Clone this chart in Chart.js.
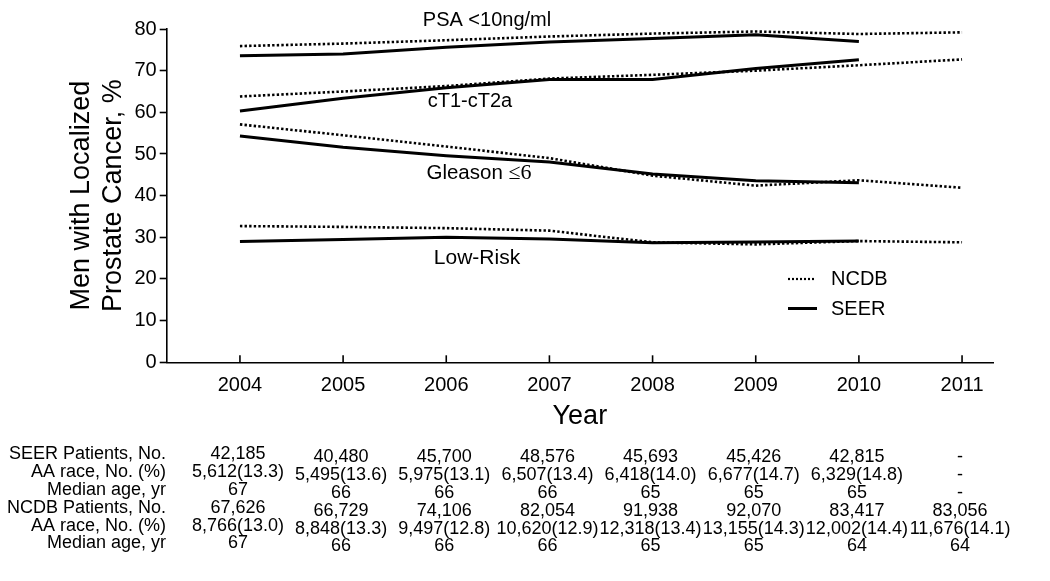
<!DOCTYPE html>
<html>
<head>
<meta charset="utf-8">
<script src="https://cdn.jsdelivr.net/npm/chart.js@4.4.1/dist/chart.umd.min.js"></script>
<style>
html,body{margin:0;padding:0;background:#fff;}
#wrap{width:1050px;height:581px;position:relative;}
</style>
</head>
<body>
<div id="wrap"><canvas id="c" width="1050" height="581"></canvas></div>
<script>
// ---- data ----
const years = [2004, 2005, 2006, 2007, 2008, 2009, 2010, 2011];
const seerYears = [2004, 2005, 2006, 2007, 2008, 2009, 2010];

const psaNCDB = [75.9, 76.5, 77.3, 78.2, 78.9, 79.4, 78.8, 79.2];
const psaSEER = [73.6, 74.0, 75.6, 76.9, 77.7, 78.6, 77.0];
const ct1NCDB = [63.8, 65.0, 66.3, 68.1, 69.0, 70.0, 71.3, 72.7];
const ct1SEER = [60.3, 63.4, 65.9, 67.9, 67.9, 70.5, 72.6];
const gleasonNCDB = [57.1, 54.5, 51.8, 49.0, 44.8, 42.4, 43.7, 41.9];
const gleasonSEER = [54.3, 51.6, 49.6, 48.1, 45.2, 43.6, 43.1];
const lowNCDB = [32.7, 32.5, 32.2, 31.6, 28.8, 28.3, 29.1, 28.8];
const lowSEER = [29.0, 29.5, 30.0, 29.6, 28.7, 28.9, 29.1];

const yTicks = [0, 10, 20, 30, 40, 50, 60, 70, 80];
const seriesLabels = ["PSA <10ng/ml", "cT1-cT2a", "Gleason ", "Low-Risk"];
const legendLabels = ["NCDB", "SEER"];

const rowLabels = ["SEER Patients, No.", "AA race, No. (%)", "Median age, yr",
                   "NCDB Patients, No.", "AA race, No. (%)", "Median age, yr"];
const seerPatients = ["42,185","40,480","45,700","48,576","45,693","45,426","42,815","-"];
const seerAA = ["5,612(13.3)","5,495(13.6)","5,975(13.1)","6,507(13.4)","6,418(14.0)","6,677(14.7)","6,329(14.8)","-"];
const seerAge = ["67","66","66","66","65","65","65","-"];
const ncdbPatients = ["67,626","66,729","74,106","82,054","91,938","92,070","83,417","83,056"];
const ncdbAA = ["8,766(13.0)","8,848(13.3)","9,497(12.8)","10,620(12.9)","12,318(13.4)","13,155(14.3)","12,002(14.4)","11,676(14.1)"];
const ncdbAge = ["67","66","66","66","65","65","64","64"];
const tableRows = [seerPatients, seerAA, seerAge, ncdbPatients, ncdbAA, ncdbAge];

// ---- helpers ----
const FONT = '"Liberation Sans", Arial, sans-serif';
const toPts = (xs, ys) => ys.map((v, i) => ({x: xs[i], y: v}));
function ncdb(vals) {
  return {data: toPts(years, vals), borderColor: '#000', borderWidth: 2.6,
          borderDash: [2.4, 2.2], pointRadius: 0, tension: 0, fill: false};
}
function seer(vals) {
  return {data: toPts(seerYears, vals), borderColor: '#000', borderWidth: 3,
          pointRadius: 0, tension: 0, fill: false};
}

const overlay = {
  id: 'overlay',
  afterDraw(chart) {
    const ctx = chart.ctx;
    const xs = chart.scales.x;
    const area = chart.chartArea;
    ctx.save();
    ctx.fillStyle = '#000';
    ctx.strokeStyle = '#000';

    // inward x ticks
    ctx.lineWidth = 1.6;
    years.forEach(y => {
      const px = xs.getPixelForValue(y);
      ctx.beginPath();
      ctx.moveTo(px, area.bottom);
      ctx.lineTo(px, area.bottom - 7);
      ctx.stroke();
    });

    // series labels
    ctx.textAlign = 'center';
    ctx.textBaseline = 'middle';
    ctx.font = '20px ' + FONT;
    ctx.fillText(seriesLabels[0], 487, 20);
    ctx.fillText(seriesLabels[1], 470, 101);
    ctx.font = '21px ' + FONT;
    ctx.fillText(seriesLabels[3], 477, 258);
    // Gleason with serif "≤6"
    ctx.font = '20.5px ' + FONT;
    const g1 = seriesLabels[2];
    const w1 = ctx.measureText(g1).width;
    ctx.font = '22px "Liberation Serif", "DejaVu Serif", serif';
    const g2 = '\u22646';
    const w2 = ctx.measureText(g2).width;
    const gx = 479 - (w1 + w2) / 2;
    ctx.textAlign = 'left';
    ctx.font = '20.5px ' + FONT;
    ctx.fillText(g1, gx, 173);
    ctx.font = '22px "Liberation Serif", "DejaVu Serif", serif';
    ctx.fillText(g2, gx + w1, 173);

    // legend
    ctx.lineWidth = 2.2;
    ctx.setLineDash([2, 2]);
    ctx.beginPath(); ctx.moveTo(788, 279); ctx.lineTo(816, 279); ctx.stroke();
    ctx.setLineDash([]);
    ctx.lineWidth = 3;
    ctx.beginPath(); ctx.moveTo(788, 308.5); ctx.lineTo(817, 308.5); ctx.stroke();
    ctx.font = '20px ' + FONT;
    ctx.textAlign = 'left';
    ctx.fillText(legendLabels[0], 831, 279);
    ctx.fillText(legendLabels[1], 831, 309);

    // axis titles
    ctx.font = '27px ' + FONT;
    ctx.textAlign = 'center';
    ctx.save();
    ctx.translate(82, (area.top + area.bottom) / 2);
    ctx.rotate(-Math.PI / 2);
    ctx.fillText("Men with Localized", 0, 0);
    ctx.restore();
    ctx.save();
    ctx.translate(113.5, (area.top + area.bottom) / 2);
    ctx.rotate(-Math.PI / 2);
    ctx.fillText("Prostate Cancer, %", 0, 0);
    ctx.restore();
    ctx.fillText("Year", (area.left + area.right) / 2, 417);

    // table
    ctx.font = '18px ' + FONT;
    const row0 = 454.5, step = 17.8;
    rowLabels.forEach((lab, r) => {
      ctx.textAlign = 'right';
      ctx.fillText(lab, 166, row0 + r * step);
      ctx.textAlign = 'center';
      tableRows[r].forEach((txt, c) => {
        const px = xs.getPixelForValue(years[c]) - 2;
        const dy = c === 0 ? 0 : 3;
        ctx.fillText(txt, px, row0 + r * step + dy);
      });
    });
    ctx.restore();
  }
};

new Chart(document.getElementById('c'), {
  type: 'line',
  data: {
    datasets: [
      ncdb(psaNCDB), seer(psaSEER),
      ncdb(ct1NCDB), seer(ct1SEER),
      ncdb(gleasonNCDB), seer(gleasonSEER),
      ncdb(lowNCDB), seer(lowSEER)
    ]
  },
  options: {
    responsive: false,
    animation: false,
    devicePixelRatio: 1,
    layout: {padding: {left: 0, right: 57, top: 29, bottom: 0}},
    plugins: {legend: {display: false}, tooltip: {enabled: false}},
    scales: {
      x: {
        type: 'linear',
        min: 2003.29, max: 2011.3,
        afterBuildTicks: a => { a.ticks = years.map(v => ({value: v})); },
        afterFit: s => { s.height = 581 - 362.3; },
        grid: {display: false, drawTicks: false},
        border: {display: true, color: '#000', width: 1.6},
        ticks: {color: '#000', font: {family: FONT, size: 20}, padding: 11,
                maxRotation: 0, autoSkip: false, callback: v => String(v)}
      },
      y: {
        type: 'linear',
        min: 0, max: 80,
        afterBuildTicks: a => { a.ticks = yTicks.map(v => ({value: v})); },
        afterFit: s => { s.width = 166.7; },
        grid: {display: true, drawOnChartArea: false, drawTicks: true,
               tickLength: 7, tickColor: '#000', tickWidth: 1.6},
        border: {display: true, color: '#000', width: 1.6},
        ticks: {color: '#000', font: {family: FONT, size: 20}, padding: 3}
      }
    }
  },
  plugins: [overlay]
});
</script>
</body>
</html>
